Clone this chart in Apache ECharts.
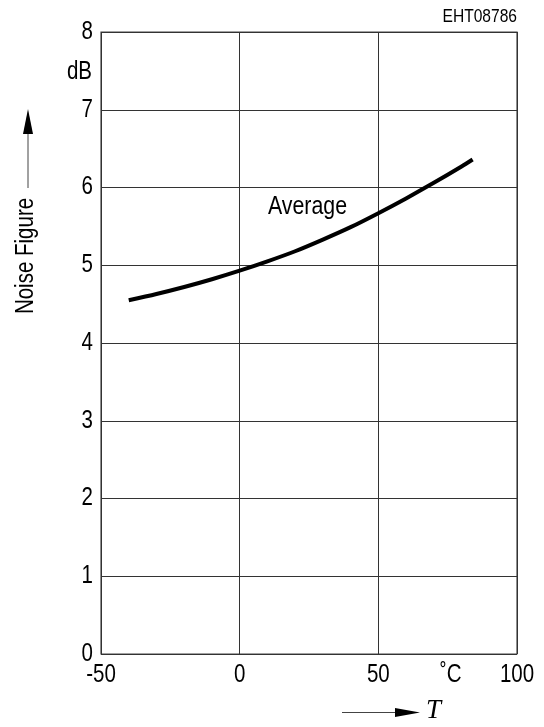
<!DOCTYPE html>
<html>
<head>
<meta charset="utf-8">
<script src="https://cdn.jsdelivr.net/npm/echarts@6/dist/echarts.min.js"></script>
<style>
  html, body { margin: 0; padding: 0; background: #fff; }
  #chart { width: 544px; height: 727px; }
</style>
</head>
<body>
<div id="chart"></div>
<script>
// Temperature (°C) and average noise figure (dB)
const temperature = [-40, -30, -20, -10, 0, 10, 20, 30, 40, 50, 60, 70, 80, 84];
const noiseFigure = [4.55, 4.63, 4.72, 4.82, 4.93, 5.05, 5.18, 5.33, 5.49, 5.67, 5.86, 6.06, 6.27, 6.36];
const xTicks = [-50, 0, 50, 100];
const yTicks = [0, 1, 2, 3, 4, 5, 6, 7, 8];

const FONT = '"Liberation Sans", Arial, sans-serif';
const NARROW = 0.82;   // horizontal squeeze for a condensed sans look
const chart = echarts.init(document.getElementById('chart'));

function label(text, x, y, size, align, vAlign, extra) {
  return Object.assign({
    type: 'text', x: x, y: y, scaleX: NARROW,
    style: { text: text, font: size + 'px ' + FONT, fill: '#000',
      align: align, verticalAlign: vAlign }
  }, extra || {});
}

chart.setOption({
  animation: false,
  backgroundColor: '#fff',
  grid: {
    left: 101, right: 27, top: 32, bottom: 73,
    show: true, borderColor: '#444', borderWidth: 1.2, backgroundColor: 'transparent'
  },
  xAxis: {
    type: 'value',
    min: xTicks[0], max: xTicks[xTicks.length - 1], interval: 50,
    axisLine: { show: false }, axisTick: { show: false }, axisLabel: { show: false },
    splitLine: { show: true, lineStyle: { color: '#333', width: 1 } }
  },
  yAxis: {
    type: 'value',
    min: yTicks[0], max: yTicks[yTicks.length - 1], interval: 1,
    axisLine: { show: false }, axisTick: { show: false }, axisLabel: { show: false },
    splitLine: { show: true, lineStyle: { color: '#333', width: 1 } }
  },
  series: [{
    type: 'line',
    data: temperature.map((t, i) => [t, noiseFigure[i]]),
    smooth: 0.3,
    showSymbol: false,
    lineStyle: { color: '#000', width: 4, join: 'round', cap: 'butt' }
  }]
});

// Tick labels placed through the axis scales, drawn condensed
const tickLabels = [];
xTicks.forEach(v => {
  const px = chart.convertToPixel({ xAxisIndex: 0 }, v);
  const py = chart.convertToPixel({ yAxisIndex: 0 }, yTicks[0]);
  tickLabels.push(label(String(v), px, py + 21, 25, 'center', 'middle'));
});
yTicks.forEach(v => {
  const px = chart.convertToPixel({ xAxisIndex: 0 }, xTicks[0]);
  const py = chart.convertToPixel({ yAxisIndex: 0 }, v);
  tickLabels.push(label(String(v), px - 8, py, 25, 'right', 'middle'));
});

chart.setOption({
  graphic: tickLabels.concat([
    label('EHT08786', 517, 17, 19, 'right', 'middle'),
    label('dB', 92, 72, 25, 'right', 'middle'),
    label('Average', 268, 207, 26, 'left', 'middle'),
    label('˚C', 440, 675, 25, 'left', 'middle'),
    // vertical axis title with upward arrow
    label('Noise Figure', 26, 256, 25, 'center', 'middle', { rotation: Math.PI / 2 }),
    { type: 'line', shape: { x1: 28, y1: 188, x2: 28, y2: 130 },
      style: { stroke: '#444', lineWidth: 1 } },
    { type: 'polygon', shape: { points: [[28, 109], [23, 134], [33, 134]] },
      style: { fill: '#000' } },
    // horizontal axis title with rightward arrow
    { type: 'line', shape: { x1: 342, y1: 712.5, x2: 400, y2: 712.5 },
      style: { stroke: '#444', lineWidth: 1 } },
    { type: 'polygon', shape: { points: [[420, 712.5], [395, 708], [395, 717]] },
      style: { fill: '#000' } },
    { type: 'text', left: 426, top: 697,
      style: { text: 'T', font: 'italic 27px "Liberation Serif", "Times New Roman", serif', fill: '#000' } }
  ])
});
</script>
</body>
</html>
